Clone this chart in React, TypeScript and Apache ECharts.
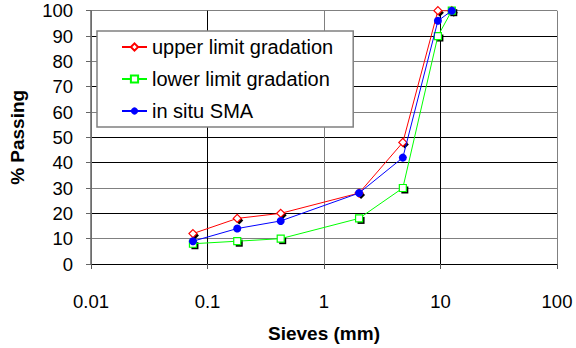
import React, { useEffect, useRef } from "react";
import * as echarts from "echarts";

const sieves = [0.075, 0.18, 0.425, 2, 4.75, 9.5, 12.5];
const upperLimit = [12, 18, 20, 28, 48, 100, 100];
const lowerLimit = [8, 9, 10, 18, 30, 90, 100];
const inSitu = [9, 14, 17, 28, 42, 96, 100];
const seriesNames = ["upper limit gradation", "lower limit gradation", "in situ SMA"];

const FONT = "Liberation Sans, Arial, sans-serif";

export default function App() {
  const ref = useRef<HTMLDivElement>(null);
  useEffect(() => {
    if (!ref.current) return;
    const chart = echarts.init(ref.current, undefined, { renderer: "svg" });
    const pairs = (ys: number[]) => sieves.map((x, i) => [x, ys[i]]);
    const shadowSeries = (ys: number[], symbol: string, size: number, z: number) => ({
      type: "scatter",
      data: pairs(ys),
      symbol,
      symbolSize: size,
      symbolOffset: [2, 2],
      itemStyle: { color: "#000", opacity: 1 },
      silent: true,
      legendHoverLink: false,
      z,
    });
    chart.setOption({
      animation: false,
      backgroundColor: "#fff",
      textStyle: { fontFamily: FONT },
      grid: { left: 90, right: 19, top: 10.7, bottom: 82.7, containLabel: false },
      legend: {
        orient: "vertical",
        left: 97,
        top: 31,
        padding: [6, 20, 6, 24],
        itemGap: 12,
        itemWidth: 25,
        itemHeight: 9,
        backgroundColor: "#fff",
        borderColor: "#808080",
        borderWidth: 1.5,
        borderRadius: 0,
        textStyle: { fontFamily: FONT, fontSize: 20, color: "#000" },
        data: seriesNames,
      },
      xAxis: {
        type: "log",
        logBase: 10,
        min: 0.01,
        max: 100,
        name: "Sieves (mm)",
        nameLocation: "middle",
        nameGap: 60,
        nameTextStyle: { fontFamily: FONT, fontSize: 19, fontWeight: "bold", color: "#000" },
        axisLine: { show: true, onZero: false, lineStyle: { color: "#000", width: 1 } },
        axisTick: { show: true, length: 5, inside: false, lineStyle: { color: "#555" } },
        axisLabel: {
          fontFamily: FONT,
          fontSize: 18.5,
          color: "#000",
          margin: 28,
          formatter: (v: number) => String(v),
        },
        splitLine: {
          show: true,
          lineStyle: { color: ["#808080", "#000", "#808080", "#000", "#808080"], width: 1 },
        },
      },
      yAxis: {
        type: "value",
        min: 0,
        max: 100,
        interval: 10,
        name: "% Passing",
        nameLocation: "middle",
        nameGap: 64,
        nameRotate: 90,
        nameTextStyle: { fontFamily: FONT, fontSize: 19, fontWeight: "bold", color: "#000" },
        axisLine: { show: true, lineStyle: { color: "#666", width: 1.5 } },
        axisTick: { show: true, length: 5, inside: false, lineStyle: { color: "#666" } },
        axisLabel: { fontFamily: FONT, fontSize: 18.5, color: "#000", margin: 18 },
        splitLine: {
          show: true,
          lineStyle: {
            color: [
              "#000", "#808080", "#000", "#808080", "#000", "#000",
              "#808080", "#000", "#808080", "#000", "#808080",
            ],
            width: 1,
          },
        },
      },
      series: [
        shadowSeries(upperLimit, "diamond", 8, 1),
        {
          name: seriesNames[0],
          type: "line",
          data: pairs(upperLimit),
          symbol: "diamond",
          symbolSize: 8,
          lineStyle: { color: "#ff0000", width: 1 },
          itemStyle: { color: "#fff", borderColor: "#ff0000", borderWidth: 1.2 },
          z: 2,
        },
        shadowSeries(lowerLimit, "rect", 7, 2),
        {
          name: seriesNames[1],
          type: "line",
          data: pairs(lowerLimit),
          symbol: "rect",
          symbolSize: 7,
          lineStyle: { color: "#00ff00", width: 1 },
          itemStyle: { color: "#fff", borderColor: "#00ff00", borderWidth: 1.2 },
          z: 3,
        },
        {
          name: seriesNames[2],
          type: "line",
          data: pairs(inSitu),
          symbol: "circle",
          symbolSize: 8,
          lineStyle: { color: "#0000ff", width: 1 },
          itemStyle: { color: "#0000ff" },
          z: 4,
        },
      ],
    });
    return () => chart.dispose();
  }, []);
  return (
    <div
      ref={ref}
      style={{ position: "fixed", left: 0, top: 0, width: 576, height: 348, background: "#fff" }}
    />
  );
}
